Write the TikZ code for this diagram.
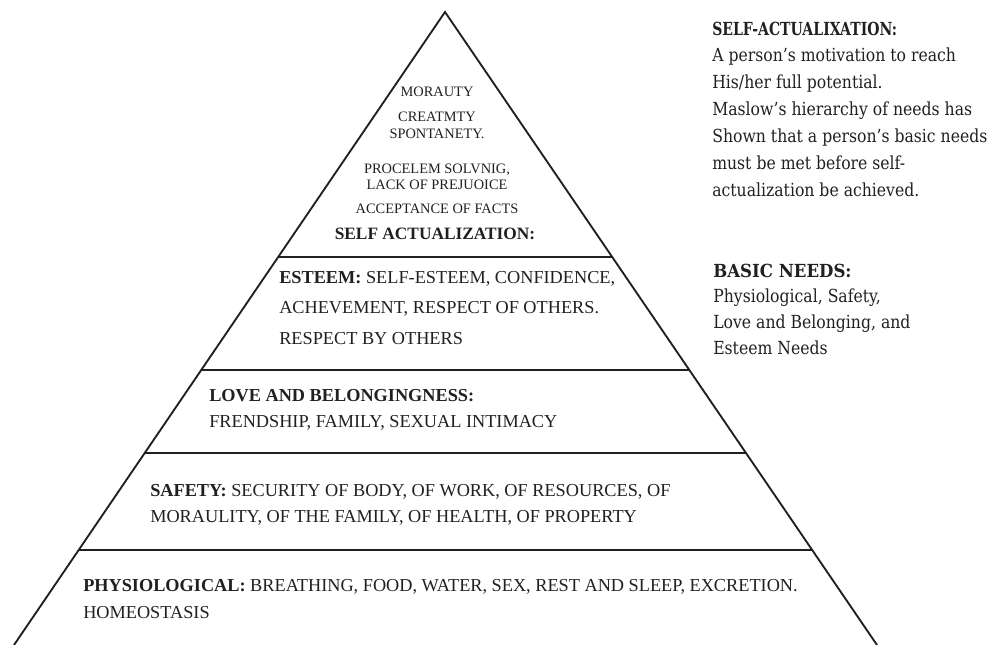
\documentclass[tikz,border=0pt]{standalone}
\usepackage{fontspec}
\setmainfont{Liberation Serif}
\newfontfamily\notefont{DejaVu Serif}[FakeStretch=0.87]
\newfontfamily\notehead{DejaVu Serif}[FakeStretch=0.78]
\newfontfamily\notesub{DejaVu Serif}[FakeStretch=0.92]
\usetikzlibrary{calc}
\definecolor{ink}{HTML}{231F20}
\begin{document}
\begin{tikzpicture}[x=0.75pt,y=-0.75pt,
  edge/.style={draw=ink,line width=1.4pt,line join=miter},
  tier/.style={draw=ink,line width=1.9pt},
  lbl/.style={inner sep=0pt,anchor=base west,text=ink,font=\fontsize{13.7}{16}\selectfont},
  toptxt/.style={inner sep=0pt,anchor=base,text=ink,font=\fontsize{10.8}{13}\selectfont},
  note/.style={inner sep=0pt,anchor=base west,text=ink,font=\notefont\fontsize{13.5}{16}\selectfont},
  notetitle/.style={note,font=\notehead\bfseries\fontsize{13.5}{16}\selectfont},
  notesubtitle/.style={note,font=\notesub\bfseries\fontsize{13.5}{16}\selectfont},
]
\useasboundingbox (0,0) rectangle (998,645);

% pyramid outline
\coordinate (A) at (445,12);
\coordinate (BL) at (14,645);
\coordinate (BR) at (877,645);
\draw[edge] (BL) -- (A) -- (BR);
\foreach \n/\t in {1/0.3870,2/0.5656,3/0.6967,4/0.8499}{
  \coordinate (L\n) at ($(A)!\t!(BL)$);
  \coordinate (R\n) at ($(A)!\t!(BR)$);
  \draw[tier] (L\n) -- (R\n);
}

% top tier
\node[toptxt] (t1) at (437,97) {MORAUTY};
\node[toptxt] (t2) at (437,122) {CREATMTY};
\node[toptxt] (t3) at (437,139) {SPONTANETY.};
\node[toptxt] (t4) at (437,174) {PROCELEM SOLVNIG,};
\node[toptxt] (t5) at (437,190) {LACK OF PREJUOICE};
\node[toptxt] (t6) at (437,214) {ACCEPTANCE OF FACTS};
\node[toptxt,font=\fontsize{13}{15}\selectfont\bfseries] (t7) at (435,239) {SELF ACTUALIZATION:};

% esteem
\node[lbl] (e1) at (279,283) {\textbf{ESTEEM:} SELF-ESTEEM, CONFIDENCE,};
\node[lbl] (e2) at (279,313.5) {ACHEVEMENT, RESPECT OF OTHERS.};
\node[lbl] (e3) at (279,344) {RESPECT BY OTHERS};

% love
\node[lbl] (l1) at (209,401) {\textbf{LOVE AND BELONGINGNESS:}};
\node[lbl] (l2) at (209,427) {FRENDSHIP, FAMILY, SEXUAL INTIMACY};

% safety
\node[lbl] (s1) at (150,496) {\textbf{SAFETY:} SECURITY OF BODY, OF WORK, OF RESOURCES, OF};
\node[lbl] (s2) at (150,522) {MORAULITY, OF THE FAMILY, OF HEALTH, OF PROPERTY};

% physiological
\node[lbl] (p1) at (83,591) {\textbf{PHYSIOLOGICAL:} BREATHING, FOOD, WATER, SEX, REST AND SLEEP, EXCRETION.};
\node[lbl] (p2) at (83,618) {HOMEOSTASIS};

% side notes
\node[notetitle] (n0) at (712,36) {SELF-ACTUALIXATION:};
\node[note] (n1) at (712,62) {A person’s motivation to reach};
\node[note] (n2) at (712,89) {His/her full potential.};
\node[note] (n3) at (712,116) {Maslow’s hierarchy of needs has};
\node[note] (n4) at (712,143) {Shown that a person’s basic needs};
\node[note] (n5) at (712,170) {must be met before self-};
\node[note] (n6) at (712,197) {actualization be achieved.};

\node[notesubtitle] (b0) at (713,277) {BASIC NEEDS:};
\node[note] (b1) at (713,302) {Physiological, Safety,};
\node[note] (b2) at (713,328) {Love and Belonging, and};
\node[note] (b3) at (713,354) {Esteem Needs};
\end{tikzpicture}
\end{document}
